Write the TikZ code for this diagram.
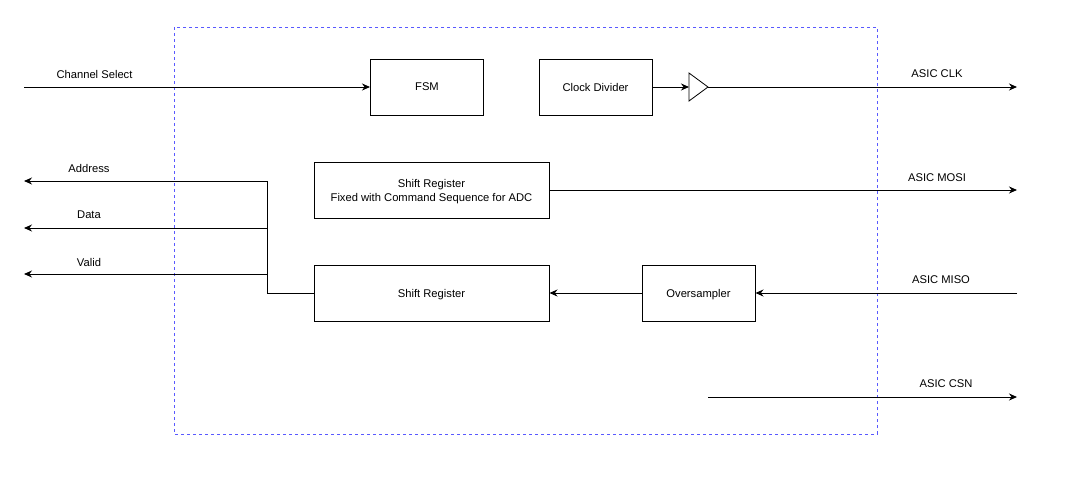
\documentclass[tikz,border=0pt]{standalone}
\usepackage{fontspec}
\setmainfont{Liberation Sans}
\usetikzlibrary{arrows.meta}
\begin{document}
\begin{tikzpicture}[x=1pt,y=-1pt,
  block/.style={draw, line width=1pt, minimum width=#1, minimum height=56pt, inner sep=0pt, align=center, text depth=0pt, font=\fontsize{11.2}{14}\selectfont},
  block/.default=113pt,
  sig/.style={line width=1pt, -{Stealth[length=8pt,width=7pt]}},
  wire/.style={line width=1pt},
  lbl/.style={font=\fontsize{11.2}{13}\selectfont, inner sep=0pt},
  boundary/.style={draw=blue!65, line width=0.8pt, dash pattern=on 3pt off 3pt}]
  \useasboundingbox (0,0) rectangle (1079,477);

  % module boundary
  \draw[boundary] (174,27) rectangle (877,434);

  % blocks
  \node[block] (fsm) at (427,87) {FSM};
  \node[block] (clkdiv) at (595.5,87) {Clock Divider};
  \node[block=235pt] (cmdsr) at (431.5,190) {Shift Register\\Fixed with Command Sequence for ADC};
  \node[block=235pt] (sr) at (431.5,293) {Shift Register};
  \node[block] (os) at (698.5,293) {Oversampler};

  % clock buffer
  \coordinate (bufin) at (689,87);
  \coordinate (bufout) at (708,87);
  \draw[line width=0.8pt] (689,73) -- (bufout) -- (689,101) -- cycle;

  % free ends
  \coordinate (chsel) at (24,87);
  \coordinate (clkout) at (1017,87);
  \coordinate (mosiout) at (1017,190);
  \coordinate (misoin) at (1017,293);
  \coordinate (csnin) at (708,397);
  \coordinate (csnout) at (1017,397);
  \coordinate (addrout) at (24,181);
  \coordinate (dataout) at (24,228);
  \coordinate (validout) at (24,274);
  \coordinate (bus) at (267,293);

  % connectors
  \draw[sig] (chsel) -- (fsm.west);
  \draw[sig] (clkdiv.east) -- (bufin);
  \draw[sig] (bufout) -- (clkout);
  \draw[sig] (cmdsr.east) -- (mosiout);
  \draw[sig] (misoin) -- (os.east);
  \draw[sig] (os.west) -- (sr.east);
  \draw[sig] (csnin) -- (csnout);
  \draw[wire] (sr.west) -- (bus) -- (bus |- addrout);
  \draw[sig] (bus |- addrout) -- (addrout);
  \draw[sig] (bus |- dataout) -- (dataout);
  \draw[sig] (bus |- validout) -- (validout);

  % signal labels
  \node[lbl] (lchsel) at (94.5,74) {Channel Select};
  \node[lbl] (lclk) at (937,74) {ASIC CLK};
  \node[lbl] (lmosi) at (937,178) {ASIC MOSI};
  \node[lbl] (lmiso) at (941,280) {ASIC MISO};
  \node[lbl] (lcsn) at (946,384) {ASIC CSN};
  \node[lbl] (laddr) at (89,168) {Address};
  \node[lbl] (ldata) at (89,215) {Data};
  \node[lbl] (lvalid) at (89,262) {Valid};
\end{tikzpicture}
\end{document}
